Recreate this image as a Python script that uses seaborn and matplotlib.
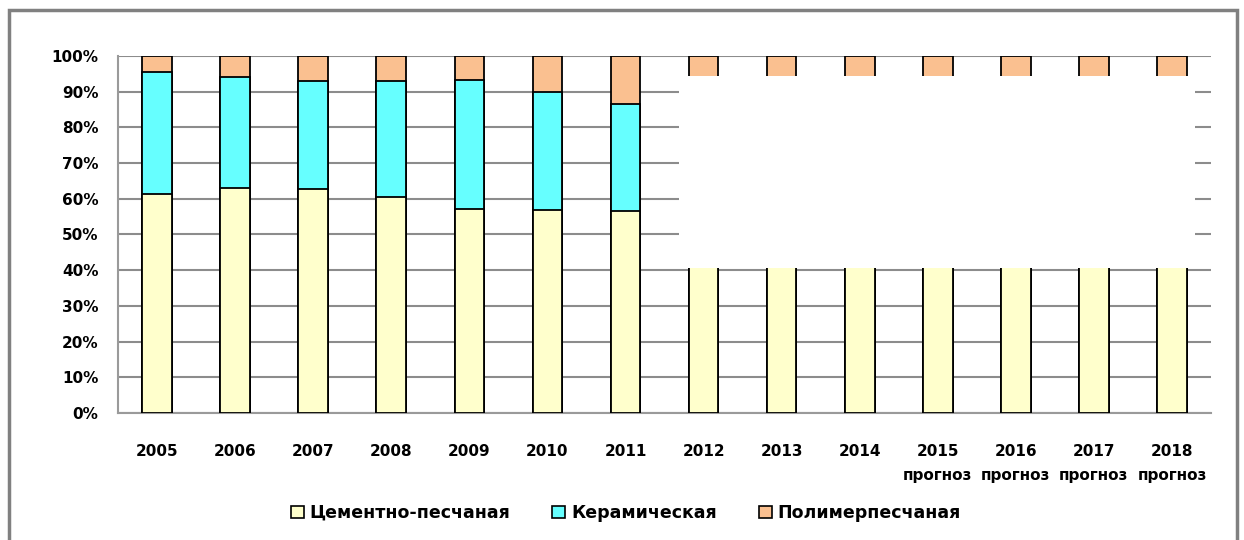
import numpy as np
import pandas as pd
import matplotlib
matplotlib.use("Agg")
import matplotlib.pyplot as plt
from matplotlib.patches import Patch, Rectangle
import seaborn as sns

# data (shares, %)
years = [str(y) for y in range(2005, 2019)]
cement = [61.4, 63.1, 62.7, 60.4, 57.1, 56.9, 56.6, 56.5, 56.5, 56.5, 56.5, 56.5, 56.5, 56.5]
ceramic = [34.0, 31.0, 30.4, 32.7, 36.3, 33.0, 29.9, 29.5, 29.5, 29.5, 29.5, 29.5, 29.5, 29.5]
polymer = [4.6, 5.9, 6.9, 6.9, 6.6, 10.1, 13.5, 14.0, 14.0, 14.0, 14.0, 14.0, 14.0, 14.0]
forecast_years = ["2015", "2016", "2017", "2018"]
series_names = ["Цементно-песчаная", "Керамическая", "Полимерпесчаная"]
colors = ["#FFFFCC", "#66FFFF", "#FAC090"]

sns.set_style("white")
plt.rcParams["font.family"] = ["DejaVu Sans"]
plt.rcParams["font.weight"] = "bold"
plt.rcParams["text.color"] = "black"
plt.rcParams["xtick.labelcolor"] = "black"
plt.rcParams["ytick.labelcolor"] = "black"

df = pd.DataFrame({"year": years, "c": cement, "k": ceramic, "p": polymer})
df["top"] = df["c"] + df["k"] + df["p"]
df["mid"] = df["c"] + df["k"]

fig = plt.figure(figsize=(12.44, 5.4), dpi=100)
ax = fig.add_axes([0.0949, 0.2352, 0.8786, 0.6611])

for col, colr in zip(["top", "mid", "c"], colors[::-1]):
    sns.barplot(data=df, x="year", y=col, order=years, color=colr, width=0.38,
                edgecolor="black", linewidth=1.3, errorbar=None, ax=ax, zorder=3,
                saturation=1)

# white box covering the forecast part of the source picture
ax.add_patch(Rectangle((6.68, 40.5), 6.62, 54.0, facecolor="white",
                       edgecolor="none", zorder=5))

ax.set_ylim(0, 100)
ax.set_xlim(-0.5, 13.5)
ax.set_yticks(np.arange(0, 101, 10))
ax.set_yticklabels([f"{v}%" for v in range(0, 101, 10)], fontsize=11, fontweight="bold")
ax.set_xlabel("")
ax.set_ylabel("")
ax.yaxis.grid(True, color="#8c8c8c", lw=1.5)
ax.set_axisbelow(True)
for s in ["top", "right"]:
    ax.spines[s].set_visible(False)
for s in ["left", "bottom"]:
    ax.spines[s].set_color("#9a9a9a")
    ax.spines[s].set_linewidth(1.5)
ax.tick_params(axis="y", length=6, width=1.5, color="#9a9a9a", pad=8)
ax.set_xticks(np.arange(len(years)))
ax.set_xticklabels(years, fontsize=11, fontweight="bold")
ax.tick_params(axis="x", which="major", length=0, pad=22)
ax.set_xticks(np.arange(-0.5, len(years), 1), minor=True)
ax.tick_params(axis="x", which="minor", length=6, width=1.5, color="#9a9a9a")

trans = ax.get_xaxis_transform()
for y in forecast_years:
    ax.text(years.index(y), -0.176, "прогноз", transform=trans, ha="center",
            va="center", fontsize=11, fontweight="bold", color="black")

handles = [Patch(facecolor=c, edgecolor="black", linewidth=1.2) for c in colors]
fig.legend(handles, series_names, loc="center", bbox_to_anchor=(0.503, 0.05),
           ncol=3, frameon=False, handlelength=0.75, handleheight=0.75,
           handletextpad=0.35, columnspacing=2.4,
           prop={"size": 12.5, "weight": "bold"})

# outer chart frame
fig.patches.append(Rectangle((9 / 1244, -0.1), 1228 / 1244, 1.1 - 10 / 540,
                             transform=fig.transFigure, fill=False,
                             edgecolor="#808080", linewidth=2.5))

fig.savefig("out.png", dpi=100)
